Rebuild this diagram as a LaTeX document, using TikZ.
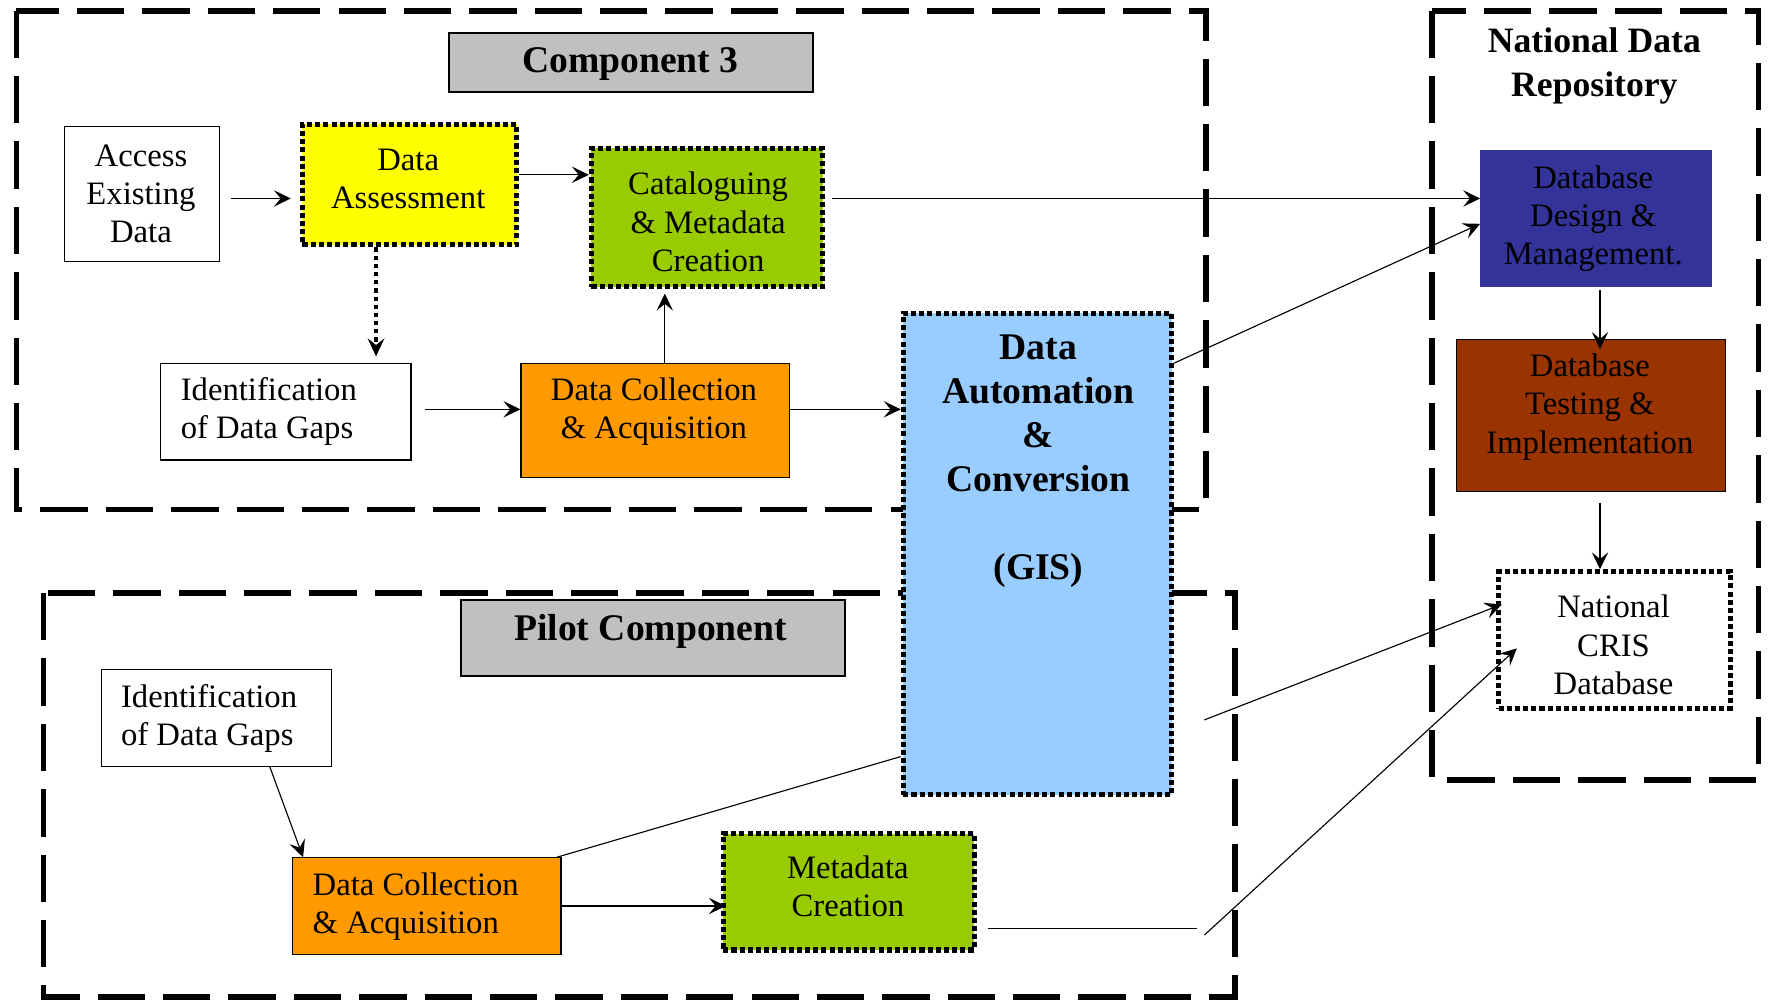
\documentclass[tikz,border=0pt]{standalone}
\usepackage{fontspec}
\setmainfont{Liberation Serif}
\usetikzlibrary{arrows.meta}

\definecolor{titlegray}{HTML}{C0C0C0}
\definecolor{assessyellow}{HTML}{FFFF00}
\definecolor{metagreen}{HTML}{99CC00}
\definecolor{collectorange}{HTML}{FF9900}
\definecolor{gisblue}{HTML}{99CCFF}
\definecolor{dbblue}{HTML}{333399}
\definecolor{dbbrown}{HTML}{993300}

\begin{document}
\begin{tikzpicture}[x=0.02cm, y=-0.02cm,
  group/.style={draw, line width=0.1cm, line join=miter, dash pattern=on 0.84cm off 0.32cm},
  plainbox/.style={draw, line width=0.02cm, rectangle, inner sep=0pt},
  titlebox/.style={draw, line width=0.03cm, rectangle, inner sep=0pt, fill=titlegray},
  dotbox/.style={draw, line width=0.092cm, dash pattern=on 0.09cm off 0.055cm, rectangle, inner sep=0pt},
  txt/.style={inner sep=0pt, align=center, font=\fontsize{16.5}{19.35}\selectfont},
  head/.style={inner sep=0pt, align=center, font=\fontsize{19}{22.2}\selectfont\bfseries},
  arr/.style={line width=0.02cm, -{Stealth[length=0.3cm, width=0.29cm, inset=0.12cm]}},
  dotarr/.style={line width=0.075cm, dash pattern=on 0.075cm off 0.07cm,
    -{Stealth[length=0.32cm, width=0.3cm, inset=0.12cm, line width=0.02cm]}},
  link/.style={line width=0.02cm},
]
% frame of the whole page
\useasboundingbox (0,0) rectangle (1568,887);

% dashed group outlines
\draw[group] (14.5,9.5) rectangle (1069.6,452);
\draw[group] (1270,9.5) rectangle (1559.6,691.7);
\draw[group] (38.7,526) rectangle (1095.3,884);

% Component 3
\node[titlebox, minimum width=6.46cm, minimum height=1.05cm] (c3title) at (559.7,55.2) {};
\node[head] (c3title-t) at (559,57) {Component 3};

\node[plainbox, minimum width=2.74cm, minimum height=2.40cm] (acc) at (126,172.2) {};
\node[txt] (acc-t) at (125,172) {Access\\Existing\\Data};

\node[dotbox, fill=assessyellow, minimum width=3.80cm, minimum height=2.14cm] (da) at (363.2,163.7) {};
\node[txt] (da-t) at (362,159) {Data\\Assessment};

\node[dotbox, fill=metagreen, minimum width=4.10cm, minimum height=2.45cm] (cat) at (627,192.9) {};
\node[txt] (cat-t) at (628,197) {Cataloguing\\\& Metadata\\Creation};

\node[plainbox, minimum width=4.44cm, minimum height=1.72cm] (gap1) at (253.5,365) {};
\node[txt, align=left, anchor=west] (gap1-t) at (160,365) {Identification\\of Data Gaps};

\node[plainbox, fill=collectorange, minimum width=4.76cm, minimum height=2.03cm] (dc1) at (581,373) {};
\node[txt] (dc1-t) at (580,365) {Data Collection\\\& Acquisition};

% Pilot component
\node[titlebox, minimum width=6.81cm, minimum height=1.35cm] (ptitle) at (579.1,565.8) {};
\node[head] (ptitle-t) at (577,560) {Pilot Component};

\node[plainbox, minimum width=4.08cm, minimum height=1.72cm] (gap2) at (191.7,636.6) {};
\node[txt, align=left, anchor=west] (gap2-t) at (107,637) {Identification\\of Data Gaps};

\node[plainbox, fill=collectorange, minimum width=4.76cm, minimum height=1.71cm] (dc2) at (378.5,803.5) {};
\node[txt, align=left, anchor=west] (dc2-t) at (277,804) {Data Collection\\\& Acquisition};

\node[dotbox, fill=metagreen, minimum width=4.45cm, minimum height=2.06cm] (meta) at (752.7,791) {};
\node[txt] (meta-t) at (752,786) {Metadata\\Creation};

% GIS conversion, spanning both groups
\node[dotbox, fill=gisblue, minimum width=4.76cm, minimum height=8.54cm] (gis) at (920.1,491.4) {};
\node[head] (gis-t) at (921,409) {Data\\Automation\\\&\\Conversion\\[22.2pt](GIS)};

% National Data Repository
\node[head, font=\fontsize{18}{22.2}\selectfont\bfseries] (ndr-t) at (1414,58.5) {National Data\\Repository};

\node[plainbox, draw=dbblue, fill=dbblue, minimum width=4.09cm, minimum height=2.40cm] (ddm) at (1415.4,193.6) {};
\node[txt] (ddm-t) at (1413,194) {Database\\Design \&\\Management.};

\node[plainbox, fill=dbbrown, minimum width=4.77cm, minimum height=2.70cm] (dti) at (1410.9,368.5) {};
\node[txt] (dti-t) at (1410,361) {Database\\Testing \&\\Implementation};

\node[dotbox, fill=white, minimum width=4.11cm, minimum height=2.42cm] (cris) at (1431.8,567.6) {};
\node[txt] (cris-t) at (1431,572) {National\\CRIS\\Database};

% free ends of the lines running into the CRIS database
\coordinate (gisfeed) at (1068,638.5);
\coordinate (metaend) at (1062,823.3);
\coordinate (metaturn) at (1068.2,829.2);

% connectors
\draw[arr, shorten <=0.2cm, shorten >=0.16cm] (acc.east |- 0,176) -- (da.west |- 0,176);
\draw[arr] (da.east |- 0,155) -- (cat.west |- 0,155);
\draw[dotarr, shorten >=0.11cm] (da.south -| 333.5,0) -- (gap1.north -| 333.5,0);
\draw[arr, shorten <=0.23cm] (gap1.east |- 0,363) -- (dc1.west |- 0,363);
\draw[arr, shorten >=0.08cm] (dc1.north -| 589.6,0) -- (cat.south -| 589.6,0);
\draw[arr] (dc1.east |- 0,363) -- (gis.west |- 0,363);
\draw[arr, shorten <=0.13cm] (cat.east |- 0,176) -- (ddm.west |- 0,176);
\draw[arr] (gis.east |- 0,322) -- (ddm.west |- 0,198.5);
\draw[arr, shorten <=0.06cm, shorten >=-0.18cm] (ddm.south -| 1419,0) -- (dti.north -| 1419,0);
\draw[arr, shorten <=0.19cm] (dti.south -| 1419,0) -- (cris.north -| 1419,0);

\draw[arr] (gap2.south -| 239.3,0) -- (dc2.north -| 268.8,0);
\draw[link] (dc2.north -| 493.8,0) -- (gis.west |- 0,671);
\draw[arr, shorten >=-0.09cm] (dc2.east |- 0,803.5) -- (meta.west |- 0,803.5);

\draw[arr, shorten >=-0.11cm] (gisfeed) -- (cris.west |- 0,538);
\draw[link, shorten <=0.2cm] (meta.east |- 0,823.3) -- (metaend);
\draw[arr] (metaturn) -- ([shift={(18.5,7.4)}]cris.west);
\end{tikzpicture}
\end{document}
